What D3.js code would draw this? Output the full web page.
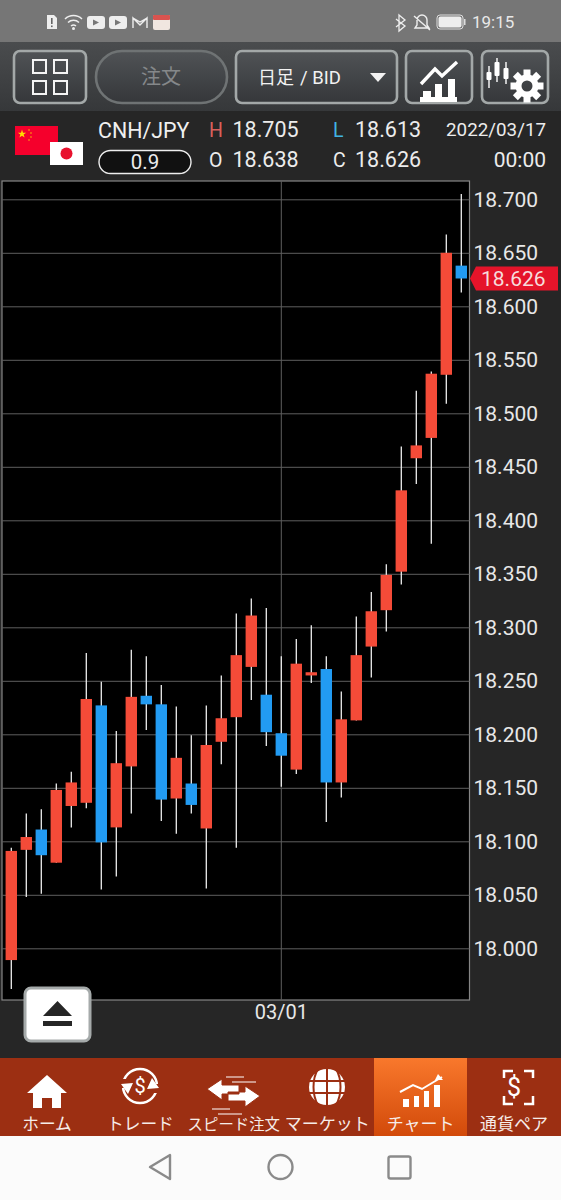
<!DOCTYPE html>
<html lang="ja">
<head>
<meta charset="utf-8">
<title>CNH/JPY</title>
<script src="https://cdnjs.cloudflare.com/ajax/libs/d3/7.8.5/d3.min.js"></script>
<style>
  html, body { margin: 0; padding: 0; background: #262626; }
  svg { display: block; }
  text { font-family: Roboto, "Noto Sans CJK JP", sans-serif; }
  .jp { font-family: "Noto Sans CJK JP", sans-serif; }
  .grid line { stroke: #5e5e5e; stroke-width: 1; }
  .grid path, .axis path, .axis line { display: none; }
  .axis text { fill: #e8e8e8; font-size: 21px; }
</style>
</head>
<body>
<svg id="chart" width="561" height="1200"></svg>
<script>
// daily candles, 02/03 to 03/17
var dates = ["02/03","02/04","02/07","02/08","02/09","02/10","02/11","02/14","02/15","02/16","02/17",
  "02/18","02/21","02/22","02/23","02/24","02/25","02/28","03/01","03/02","03/03","03/04","03/07",
  "03/08","03/09","03/10","03/11","03/14","03/15","03/16","03/17"];
var opens  = [17.989,18.092,18.111,18.080,18.133,18.136,18.227,18.113,18.170,18.236,18.228,
  18.140,18.154,18.112,18.193,18.216,18.263,18.237,18.201,18.167,18.255,18.261,18.155,
  18.213,18.282,18.316,18.352,18.458,18.477,18.536,18.638];
var highs  = [18.094,18.126,18.130,18.154,18.165,18.276,18.249,18.203,18.279,18.273,18.246,
  18.226,18.199,18.227,18.255,18.313,18.327,18.318,18.273,18.289,18.302,18.273,18.240,
  18.310,18.333,18.359,18.469,18.521,18.539,18.667,18.705];
var lows   = [17.962,18.048,18.051,18.080,18.113,18.131,18.055,18.067,18.126,18.204,18.119,
  18.107,18.126,18.056,18.172,18.094,18.232,18.189,18.151,18.163,18.248,18.118,18.141,
  18.213,18.253,18.296,18.340,18.434,18.378,18.509,18.613];
var closes = [18.091,18.104,18.087,18.148,18.155,18.233,18.099,18.173,18.235,18.228,18.139,
  18.178,18.134,18.190,18.215,18.274,18.311,18.202,18.180,18.266,18.258,18.155,18.214,
  18.274,18.315,18.349,18.428,18.470,18.537,18.650,18.626];
var priceTicks = [18.0,18.05,18.1,18.15,18.2,18.25,18.3,18.35,18.4,18.45,18.5,18.55,18.6,18.65,18.7];
var dateTicks = ["03/01"];
var navLabels = ["ホーム","トレード","スピード注文","マーケット","チャート","通貨ペア"];
var navSizes = [16.7,16.7,15.4,17,17,17];

var svg = d3.select("#chart");
var defs = svg.append("defs");

function gradient(id, stops) {
  var g = defs.append("linearGradient").attr("id", id).attr("x1", 0).attr("x2", 0).attr("y1", 0).attr("y2", 1);
  stops.forEach(function (s, i) {
    g.append("stop").attr("offset", i / (stops.length - 1)).attr("stop-color", s);
  });
}
gradient("headGrad", ["#4a4c4e", "#36383a"]);
gradient("btnGrad", ["#505356", "#35373a"]);
gradient("navActive", ["#f9782c", "#d24a0a"]);

function rect(x, y, w, h, fill, r) {
  return svg.append("rect").attr("x", x).attr("y", y).attr("width", w).attr("height", h)
    .attr("rx", r || 0).attr("fill", fill);
}
function label(x, y, s, size, fill, anchor) {
  return svg.append("text").attr("x", x).attr("y", y).attr("font-size", size)
    .attr("fill", fill).attr("text-anchor", anchor || "start").text(s);
}
function icon(d, fill, stroke, sw) {
  return svg.append("path").attr("d", d).attr("fill", fill || "none")
    .attr("stroke", stroke || "none").attr("stroke-width", sw || 0);
}

// status bar
rect(0, 0, 561, 42, "#767676");
rect(0, 42, 561, 69, "url(#headGrad)");
icon("M47 15h7l3 3v11h-10z", "#eee");
rect(51, 18, 1.6, 6, "#666"); rect(51, 25.5, 1.6, 1.6, "#666");
icon("M65 19a12 12 0 0 1 17 0M68 22.5a8 8 0 0 1 11 0M71 26a4 4 0 0 1 5 0", "none", "#eee", 1.5);
svg.append("circle").attr("cx", 73.5).attr("cy", 28.5).attr("r", 1.5).attr("fill", "#eee");
rect(87, 16, 18, 13, "#eee", 3);
icon("M93 19.5l6 3-6 3z", "#777");
rect(109, 16, 18, 13, "#eee", 3);
icon("M115 19.5l6 3-6 3z", "#777");
icon("M133 28v-10l7 7 7-7v10M133 18l7 4 7-4", "none", "#eee", 1.4);
rect(153, 15, 17, 15, "#f0e6e0", 2);
rect(153, 15, 17, 5, "#d9534f", 1);
icon("M399 15l6 5-4 3 4 3-6 5zM396 19l5 4-5 4", "none", "#eee", 1.3);
icon("M415 28h14l-2-3v-5a5 5 0 0 0-10 0v5zM414 16l16 14", "none", "#eee", 1.4);
rect(437, 15, 26, 14, "none", 3).attr("stroke", "#ddd");
rect(438.5, 16.5, 23, 11, "#eee", 2);
rect(464, 19, 1.5, 6, "#ddd");
label(472, 28, "19:15", 17, "#e8e8e8");

// toolbar buttons
function button(x, w, r, stroke) {
  rect(x, 51, w, 52, "url(#btnGrad)", r).attr("stroke", stroke).attr("stroke-width", 2.6);
}
button(14, 72, 6, "#a3a8a8");
button(96, 131, 26, "#6f7374");
button(236, 161, 6, "#a3a8a8");
button(406, 66, 6, "#a3a8a8");
button(482, 66, 6, "#a3a8a8");
[[33, 64], [54, 64], [33, 85], [54, 85]].forEach(function (p) {
  svg.append("rect").attr("x", p[0]).attr("y", p[1] - 4).attr("width", 13).attr("height", 13)
    .attr("fill", "none").attr("stroke", "#f4f4f4").attr("stroke-width", 2);
});
label(161, 84, "注文", 20, "#85888a", "middle").attr("class", "jp");
label(258, 84, "日足", 18, "#f2f2f2").attr("class", "jp");
label(300, 84, "/ BID", 18.5, "#f2f2f2");
icon("M370 73h16l-8 9z", "#f2f2f2");
// chart button
icon("M421 84l14-15 7 7 15-14", "none", "#fff", 3.4);
icon("M420 97h37v5h-37z M423 91h8v6h-8z M435 84h7v13h-7z M448 79h7v18h-7z", "#fff");
// settings button
[[489, 66, 88, 72, 80], [497, 58, 82, 62, 76], [506, 62, 84, 68, 79]].forEach(function (c) {
  icon("M" + c[0] + " " + c[1] + "V" + c[2], "none", "#fff", 1.4);
  rect(c[0] - 2.5, c[3], 5, c[4] - c[3], "#fff", 1);
});
var gearX = 527, gearY = 86;
d3.range(8).forEach(function (i) {
  svg.append("rect").attr("x", -3.5).attr("y", -16.5).attr("width", 7).attr("height", 7)
    .attr("fill", "#fff")
    .attr("transform", "translate(" + gearX + "," + gearY + ") rotate(" + (i * 45) + ")");
});
svg.append("circle").attr("cx", gearX).attr("cy", gearY).attr("r", 8.5)
  .attr("fill", "none").attr("stroke", "#fff").attr("stroke-width", 6);

// symbol row
rect(15, 126, 43, 29, "#f5002c");
icon(d3.symbol().type(d3.symbolStar).size(22)(), "#ffde00").attr("transform", "translate(22,134)");
[[29, 130], [31, 133], [31, 137], [29, 140]].forEach(function (p) {
  svg.append("circle").attr("cx", p[0]).attr("cy", p[1]).attr("r", 0.7).attr("fill", "#ffde00");
});
rect(50, 142, 33, 23, "#fff");
svg.append("circle").attr("cx", 66.5).attr("cy", 153.5).attr("r", 6).attr("fill", "#e8112d");
label(98, 138, "CNH/JPY", 21.4, "#f0f0f0");
label(209, 137, "H", 19.5, "#d9605c");
label(232.5, 137, "18.705", 21.5, "#ececec");
label(333, 137, "L", 19.5, "#41b4e4");
label(355, 137, "18.613", 21.5, "#ececec");
label(546, 136, "2022/03/17", 18.8, "#ececec", "end");
rect(99, 150.5, 92, 23, "#111", 11.5).attr("stroke", "#eee").attr("stroke-width", 1.4);
label(145, 169, "0.9", 20.5, "#ececec", "middle");
label(209, 167, "O", 19.5, "#ececec");
label(232.5, 167, "18.638", 21.5, "#ececec");
label(333, 167, "C", 19.5, "#ececec");
label(355, 167, "18.626", 21.5, "#ececec");
label(546, 167, "00:00", 21, "#ececec", "end");

// plot
var plot = { left: 2, right: 469.5, top: 181, bottom: 1000 };
var x = d3.scaleBand().domain(dates).range([3.8, 468.8]).paddingInner(0.24).paddingOuter(0.12);
var y = d3.scaleLinear().domain([18, 18.7]).range([948.3, 199.3]);
var cx = function (d) { return x(d) + x.bandwidth() / 2; };

rect(plot.left, plot.top, plot.right - plot.left, plot.bottom - plot.top, "#000")
  .attr("stroke", "#858585").attr("stroke-width", 1.2);

svg.append("g").attr("class", "grid").attr("transform", "translate(" + plot.right + ",0)")
  .call(d3.axisLeft(y).tickValues(priceTicks).tickSize(plot.right - plot.left).tickFormat(""));
svg.append("g").attr("class", "grid").attr("transform", "translate(0," + plot.bottom + ")")
  .call(d3.axisTop(x).tickValues(dateTicks).tickSize(plot.bottom - plot.top).tickFormat(""));

var candles = svg.append("g").selectAll("g").data(dates).join("g");
candles.append("line")
  .attr("x1", cx).attr("x2", cx)
  .attr("y1", function (d, i) { return y(highs[i]); })
  .attr("y2", function (d, i) { return y(lows[i]); })
  .attr("stroke", "#eeeeee").attr("stroke-width", 1.3);
candles.append("rect")
  .attr("x", function (d) { return x(d); })
  .attr("width", x.bandwidth())
  .attr("y", function (d, i) { return y(Math.max(opens[i], closes[i])); })
  .attr("height", function (d, i) { return Math.abs(y(opens[i]) - y(closes[i])); })
  .attr("fill", function (d, i) { return closes[i] >= opens[i] ? "#f44b38" : "#229bf2"; });

var yAxis = svg.append("g").attr("class", "axis").attr("transform", "translate(473.5,0)")
  .call(d3.axisRight(y).tickValues(priceTicks).tickSize(0).tickPadding(0).tickFormat(d3.format(".3f")));
var xAxis = svg.append("g").attr("class", "axis").attr("transform", "translate(0,1000)")
  .call(d3.axisBottom(x).tickValues(dateTicks).tickSize(0).tickPadding(5));
xAxis.selectAll("text").style("font-size", "20px");

// current price tag
var last = closes[closes.length - 1], lastY = y(last);
svg.append("path")
  .attr("d", d3.line()([[470, lastY], [476, lastY - 12], [558, lastY - 12], [558, lastY + 12], [476, lastY + 12]]) + "Z")
  .attr("fill", "#e5142a");
label(481, lastY + 7.5, d3.format(".3f")(last), 21, "#f6dcdc");

// eject button
rect(25, 988, 65, 53, "#fff", 6).attr("stroke", "#a5aaaa").attr("stroke-width", 3);
icon("M43 1016l14.5-15 14.5 15z M43 1021h29v5h-29z", "#262626");

// bottom nav
rect(0, 1058, 561, 78, "#9c2f12");
rect(374, 1058, 93, 78, "url(#navActive)");
navLabels.forEach(function (s, i) {
  label(47 + i * 93.4, 1130, s, navSizes[i], "#f6ece8", "middle").attr("class", "jp");
});
// home
icon("M47 1075l-20 18h6v15h9v-10h10v10h9v-15h6z", "#fff");
// trade
svg.append("circle").attr("cx", 140).attr("cy", 1086).attr("r", 17).attr("fill", "none").attr("stroke", "#fff").attr("stroke-width", 2.5);
rect(120, 1079, 9, 9, "#9c2f12"); rect(152, 1084, 9, 9, "#9c2f12");
icon("M121 1084l12-1-5 11zM159 1088l-12 1 5-11z", "#fff");
label(140, 1093, "$", 20, "#fff", "middle");
// speed order
icon("M207 1089l15-10v6h17v9h-17v6zM260 1096l-15-10v6h-17v9h17v6z", "#fff", "#9c2f12", 1);
icon("M226 1077h18M232 1082h24M212 1109h18M218 1114h24", "none", "#fff", 1.2);
// market
svg.append("circle").attr("cx", 327).attr("cy", 1087).attr("r", 18).attr("fill", "#fff");
icon("M309 1081h36M309 1093h36M327 1069v36M318 1069c-6 10-6 26 0 36M336 1069c6 10 6 26 0 36", "none", "#9c2f12", 2);
// chart
icon("M400 1092l13-7 9 4 20-12", "none", "#fff", 2);
icon("M438 1074l-3 6 8 0z", "#fff");
[[403, 1100, 6, 14], [414, 1097, 5, 13], [424, 1092, 5, 18], [434, 1086, 6, 24]].forEach(function (b) {
  rect(b[0], b[1] - 1, b[2], 1107 - b[1] + 1, "#fff");
});
// currency pair
icon("M504 1078v-7h9M524 1071h9v7M504 1096v8h9M524 1104h9v-8", "none", "#fff", 2.5);
label(514, 1096, "$", 25, "#fff", "middle");

// android nav bar
rect(0, 1136, 561, 64, "#fbfbfb");
icon("M170 1155v24l-20-12z", "none", "#8a8a8a", 2.4).attr("stroke-linejoin", "round");
svg.append("circle").attr("cx", 280.5).attr("cy", 1167).attr("r", 12).attr("fill", "none").attr("stroke", "#8a8a8a").attr("stroke-width", 2.4);
rect(388.5, 1156.5, 22, 22, "none", 2).attr("stroke", "#8a8a8a").attr("stroke-width", 2.4);
</script>
</body>
</html>
